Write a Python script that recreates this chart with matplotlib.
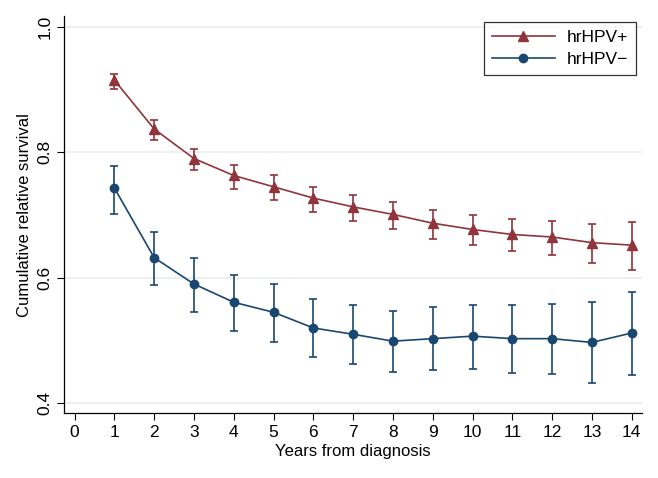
import matplotlib.pyplot as plt

plt.rcParams['font.family'] = ['Liberation Sans', 'DejaVu Sans']

years = [1, 2, 3, 4, 5, 6, 7, 8, 9, 10, 11, 12, 13, 14]

# hrHPV+ : estimate, lower, upper
pos_est = [0.915, 0.837, 0.790, 0.763, 0.745, 0.727, 0.713, 0.701, 0.687, 0.677, 0.669, 0.665, 0.656, 0.652]
pos_lo = [0.901, 0.820, 0.771, 0.742, 0.724, 0.705, 0.690, 0.677, 0.662, 0.652, 0.642, 0.637, 0.624, 0.613]
pos_hi = [0.925, 0.851, 0.806, 0.780, 0.763, 0.745, 0.732, 0.721, 0.708, 0.700, 0.693, 0.691, 0.686, 0.689]

# hrHPV- : estimate, lower, upper
neg_est = [0.743, 0.632, 0.590, 0.561, 0.545, 0.520, 0.510, 0.499, 0.503, 0.507, 0.503, 0.503, 0.497, 0.512]
neg_lo = [0.702, 0.588, 0.545, 0.515, 0.498, 0.473, 0.462, 0.450, 0.453, 0.455, 0.449, 0.446, 0.432, 0.445]
neg_hi = [0.778, 0.673, 0.632, 0.605, 0.590, 0.566, 0.556, 0.547, 0.553, 0.557, 0.556, 0.558, 0.561, 0.578]

MAROON = "#90353b"
NAVY = "#1a476f"
GRID = "#e8eef0"


def errs(est, lo, hi):
    return [[e - l for e, l in zip(est, lo)], [h - e for e, h in zip(est, hi)]]


fig = plt.figure(figsize=(6.58, 4.78), dpi=100)
ax = fig.add_axes([0.0977, 0.1353, 0.878, 0.831])

ax.errorbar(years, pos_est, yerr=errs(pos_est, pos_lo, pos_hi), color=MAROON,
            marker="^", markersize=6.5, linewidth=1.2, elinewidth=1.2,
            capsize=3, capthick=1.2, label="hrHPV+", zorder=3)
ax.errorbar(years, neg_est, yerr=errs(neg_est, neg_lo, neg_hi), color=NAVY,
            marker="o", markersize=6, linewidth=1.2, elinewidth=1.2,
            capsize=3, capthick=1.2, label="hrHPV\u2212", zorder=3)

ax.set_xlim(-0.26, 14.26)
ax.set_ylim(0.384, 1.017)
ax.set_xticks(range(0, 15))
ax.set_yticks([0.4, 0.6, 0.8, 1.0])
ax.set_yticklabels(["0.4", "0.6", "0.8", "1.0"], rotation=90, va="center")
ax.tick_params(axis="both", direction="out", length=5, width=0.8,
               labelsize=12.5, colors="black")
ax.yaxis.grid(True, color=GRID, linewidth=1.2)
ax.set_axisbelow(True)

for s in ["top", "right"]:
    ax.spines[s].set_visible(False)
for s in ["left", "bottom"]:
    ax.spines[s].set_linewidth(0.9)

ax.set_xlabel("Years from diagnosis", fontsize=12, labelpad=3)
ax.set_ylabel("Cumulative relative survival", fontsize=12, labelpad=4)

handles, labels = ax.get_legend_handles_labels()
handles = [h[0] for h in handles]
leg = fig.legend(handles, labels, loc="upper right",
                 bbox_to_anchor=(0.9666, 0.954), borderaxespad=0,
                 fontsize=12.5, frameon=True, fancybox=False,
                 edgecolor="black", handlelength=3.6, handletextpad=0.7,
                 borderpad=0.45, labelspacing=0.4)
leg.get_frame().set_linewidth(0.9)

fig.savefig("out.png", dpi=100, facecolor="white")
